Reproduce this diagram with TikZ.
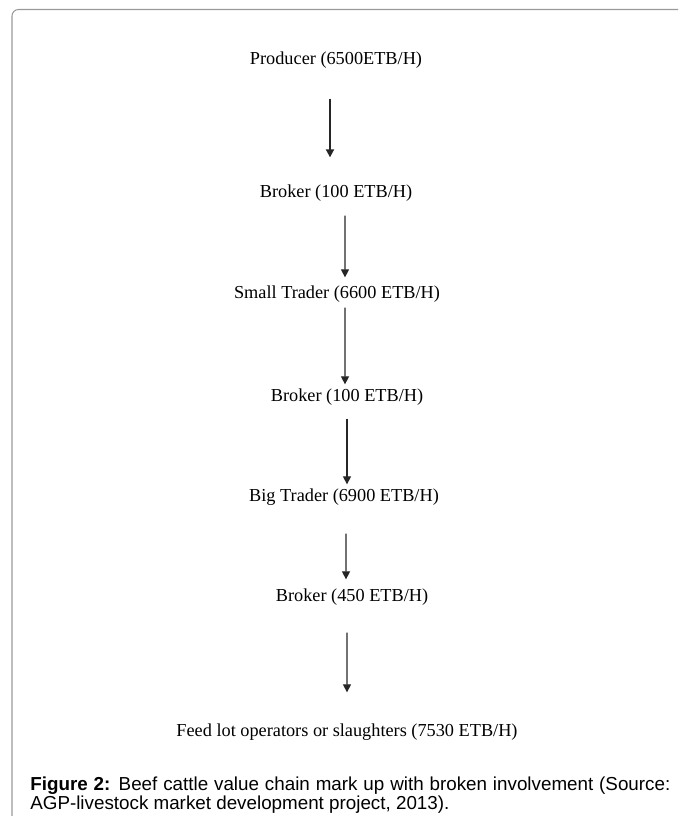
\documentclass[tikz,border=0pt]{standalone}
\usepackage{fontspec}
\setmainfont{Liberation Serif}
\newfontfamily\capfont{Liberation Sans}
\usetikzlibrary{arrows.meta}

\begin{document}
\begin{tikzpicture}[every node/.style={font=\fontsize{10.4}{12}\selectfont, inner sep=0pt}, >={Triangle[width=4.6pt,length=4.6pt]},
	flow/.style={->, line width=0.8pt, black!85}]
	\useasboundingbox (0,0) rectangle (13.56,-16.32);
	% frame: left and top edge only
	\draw[gray!80, line width=0.6pt, rounded corners=0.13cm] (0.24,-16.32) -- (0.24,-0.19) -- (13.56,-0.19);
	% chain of actors with mark up
	\node (prod) at (6.72,-1.20) {Producer (6500ETB/H)};
	\node (brk1) at (6.72,-3.86) {Broker (100 ETB/H)};
	\node (strd) at (6.74,-5.88) {Small Trader (6600 ETB/H)};
	\node (brk2) at (6.94,-7.94) {Broker (100 ETB/H)};
	\node (btrd) at (6.88,-9.94) {Big Trader (6900 ETB/H)};
	\node (brk3) at (7.04,-11.94) {Broker (450 ETB/H)};
	\node (feed) at (6.94,-14.64) {Feed lot operators or slaughters (7530 ETB/H)};
	\draw[flow, line width=1pt, shorten <=0.60cm, shorten >=0.54cm] ([xshift=-0.12cm]prod.south) -- ([xshift=-0.12cm]brk1.north);
	\draw[flow, shorten <=0.28cm, shorten >=0.16cm] ([xshift=0.18cm]brk1.south) -- ([xshift=0.16cm]strd.north);
	\draw[flow, shorten <=0.10cm, shorten >=0.08cm] ([xshift=0.16cm]strd.south) -- ([xshift=-0.04cm]brk2.north);
	\draw[flow, shorten <=0.26cm, shorten >=0.08cm] (brk2.south) -- ([xshift=0.06cm]btrd.north);
	\draw[flow, shorten <=0.56cm, shorten >=0.18cm] ([xshift=0.04cm]btrd.south) -- ([xshift=-0.12cm]brk3.north);
	\draw[flow, shorten <=0.54cm, shorten >=0.62cm] ([xshift=-0.10cm]brk3.south) -- (feed.north);
	% caption
	\node[anchor=north west, text width=12.80cm, align=justify, font=\capfont\fontsize{10.7}{10.6}\selectfont] (cap) at (0.60,-15.54)
		{\textbf{Figure 2:} Beef cattle value chain mark up with broken involvement (Source: \mbox{AGP-livestock} market development project, 2013).};
\end{tikzpicture}
\end{document}
